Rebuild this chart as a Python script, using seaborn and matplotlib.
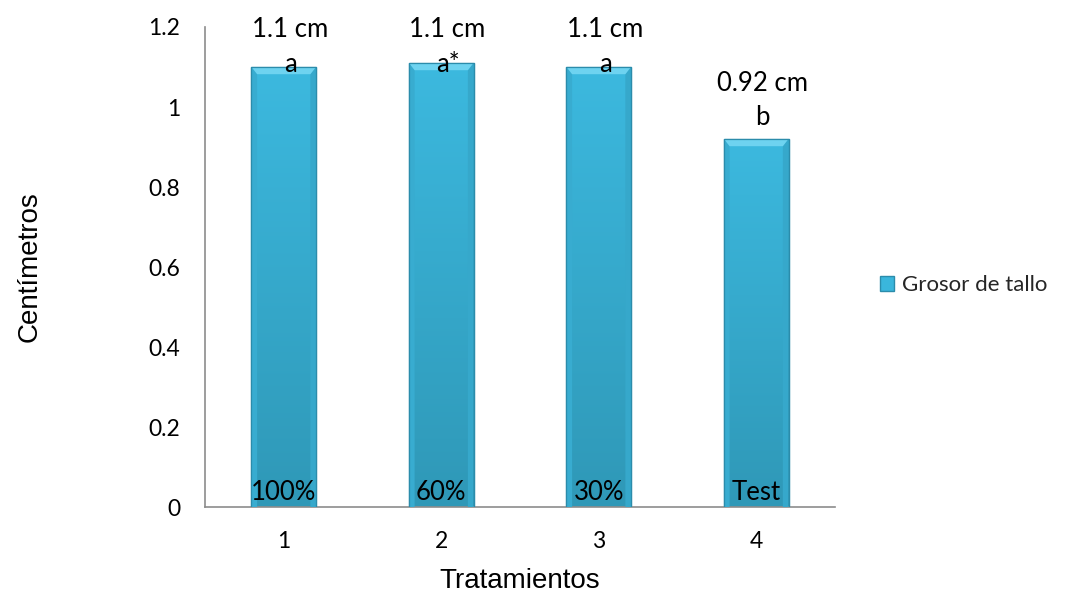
import numpy as np
import pandas as pd
import matplotlib
matplotlib.use("Agg")
import matplotlib.pyplot as plt
from matplotlib.colors import to_rgb
from matplotlib.patches import Patch
import seaborn as sns

# Data
tratamientos = ["1", "2", "3", "4"]
grosor = [1.10, 1.11, 1.10, 0.92]
valor_texto = ["1.1 cm", "1.1 cm", "1.1 cm", "0.92 cm"]
letras = ["a", "a*", "a", "b"]
dosis = ["100%", "60%", "30%", "Test"]
yticks = [0, 0.2, 0.4, 0.6, 0.8, 1.0, 1.2]
ytick_labels = ["0", "0.2", "0.4", "0.6", "0.8", "1", "1.2"]

df = pd.DataFrame({"Tratamientos": tratamientos, "Grosor de tallo": grosor})

sns.set_style("white")
plt.rcParams["font.family"] = ["Lato", "DejaVu Sans"]

fig = plt.figure(figsize=(10.65, 5.96), dpi=100)
ax = fig.add_axes([0.1925, 0.1493, 0.5915, 0.8054])

bar_color = "#3ab6dc"
sns.barplot(data=df, x="Tratamientos", y="Grosor de tallo", color=bar_color,
            width=0.41, edgecolor="#2b8cab", linewidth=0.9, ax=ax, zorder=2)

# vertical shading inside each bar, lighter at the top, a little darker at the base
top_c = np.array(to_rgb("#3cb9df"))
bot_c = np.array(to_rgb("#2f98b7"))
for p in ax.patches:
    x0, y0 = p.get_x(), p.get_y()
    w, h = p.get_width(), p.get_height()
    ny, nx = 200, 40
    t = np.linspace(0, 1, ny)[:, None]
    col = bot_c * (1 - t) + top_c * t
    img = np.repeat(col[:, None, :], nx, axis=1)
    # slightly darker near the side edges
    edge = np.linspace(-1, 1, nx)
    fac = 1 - 0.10 * np.clip((np.abs(edge) - 0.85) / 0.15, 0, 1)
    img = img * fac[None, :, None]
    im = ax.imshow(img, extent=[x0, x0 + w, y0, y0 + h], origin="lower",
                   aspect="auto", zorder=2.5, interpolation="bilinear")
    im.set_clip_path(p)
    # bevel on the top face
    bev_y, bev_x = 0.018, 0.036
    yt = y0 + h
    ax.fill([x0, x0 + w, x0 + w - bev_x, x0 + bev_x],
            [yt, yt, yt - bev_y, yt - bev_y], color="#6ed3f0", zorder=2.6, lw=0)
    ax.fill([x0, x0 + bev_x, x0 + bev_x, x0],
            [yt, yt - bev_y, y0, y0], color="#38acd0", zorder=2.55, lw=0)
    ax.fill([x0 + w, x0 + w - bev_x, x0 + w - bev_x, x0 + w],
            [yt, yt - bev_y, y0, y0], color="#36a8cb", zorder=2.55, lw=0)
    ax.plot([x0, x0, x0 + w, x0 + w], [y0, yt, yt, y0], color="#2b8cab", lw=0.9, zorder=2.7)

ax.set_xlim(-0.5, 3.5)
ax.set_ylim(0, 1.2)
ax.set_yticks(yticks)
ax.set_yticklabels(ytick_labels)

# category boundaries get the tick marks, centers get the labels
ax.set_xticks(np.arange(4))
ax.set_xticklabels(tratamientos)
ax.set_xticks(np.arange(-0.5, 4.0, 1.0), minor=True)
ax.tick_params(axis="x", which="major", length=0, pad=17, labelsize=16.5, labelcolor="#000000")
ax.tick_params(axis="x", which="minor", length=6, width=1, color="#8c8c8c", direction="out")
ax.tick_params(axis="y", length=6, width=1, color="#8c8c8c", direction="out", pad=12,
               labelsize=16.5, labelcolor="#000000")

for s in ["top", "right"]:
    ax.spines[s].set_visible(False)
for s in ["left", "bottom"]:
    ax.spines[s].set_color("#8c8c8c")
    ax.spines[s].set_linewidth(1.2)

ax.set_xlabel("Tratamientos", fontsize=20, family=["Liberation Sans"], color="black", labelpad=12)
ax.set_ylabel("Centímetros", fontsize=20, family=["Liberation Sans"], color="black", labelpad=76)

# labels above and inside the bars (kept inside the plotting area at the top)
dx = 0.04
for i, v in enumerate(grosor):
    y_val = min(v + 0.14, 1.1925)
    ax.text(i + dx, y_val, valor_texto[i], ha="center", va="center", fontsize=18.5,
            color="black", zorder=5)
    ax.text(i + dx, y_val - 0.087, letras[i], ha="center", va="center", fontsize=18.5,
            color="black", zorder=5)
    ax.text(i, 0.037, dosis[i], ha="center", va="center", fontsize=18.5,
            color="black", zorder=5)

legend_handle = Patch(facecolor=bar_color, edgecolor="#2b8cab", label="Grosor de tallo")
fig.legend(handles=[legend_handle], loc="center left", bbox_to_anchor=(0.826, 0.521),
           frameon=False, fontsize=16, handlelength=0.65, handleheight=0.65, handletextpad=0.35,
           borderpad=0, borderaxespad=0)

fig.savefig("out.png", dpi=100)
